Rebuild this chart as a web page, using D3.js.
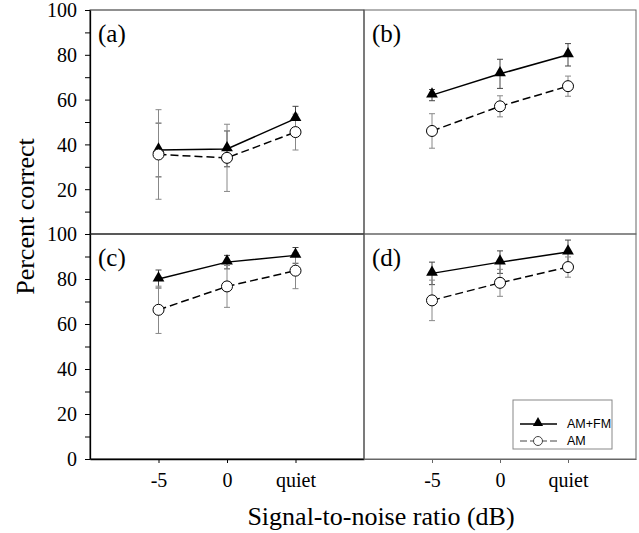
<!DOCTYPE html>
<html>
<head>
<meta charset="utf-8">
<script src="https://cdn.jsdelivr.net/npm/d3@7"></script>
<style>
  body { margin: 0; background: #fff; }
  svg { display: block; }
</style>
</head>
<body>
<div class="chart"></div>
<script>
// conditions on the x axis
const conditions = ['-5', '0', 'quiet'];
const panelLabels = ['(a)', '(b)', '(c)', '(d)'];
const seriesNames = ['AM+FM', 'AM'];

// percent correct, one row per panel (a..d)
const amfmMean = [
  [37.5, 38, 51.5],
  [62, 71.5, 80],
  [80, 87.5, 90.5],
  [82.5, 87.5, 92]
];
const amfmErr = [
  [12, 8, 5.5],
  [2.5, 6.5, 5],
  [4, 3, 3.5],
  [5, 5, 5.3]
];
const amMean = [
  [35.5, 34, 45.5],
  [46, 57, 66],
  [66.3, 76.7, 83.7],
  [70.5, 78.3, 85.3]
];
const amErr = [
  [20, 15, 8],
  [7.7, 4.7, 4.5],
  [10.5, 9.3, 8],
  [9, 6, 4.5]
];
const yMajor = [0, 20, 40, 60, 80, 100];
const yMinor = [10, 30, 50, 70, 90];

const width = 639, height = 533;
const colX = [[90, 364], [364, 636]];
const rowY = [[10, 234], [234, 459]];
const serif = '"Liberation Serif", "Times New Roman", serif';

const svg = d3.select('.chart').append('svg')
  .attr('width', width).attr('height', height);

function drawPanel(i) {
  const col = i % 2, row = Math.floor(i / 2);
  const [x0, x1] = colX[col];
  const [y0, y1] = rowY[row];
  const x = d3.scaleLinear().domain([0, 4]).range([x0, x1]);
  const y = d3.scaleLinear().domain([0, 100]).range([y1, y0]);
  const frameColor = col === 0 ? '#222' : '#666';

  const g = svg.append('g').attr('class', 'panel');

  g.append('rect')
    .attr('x', x0).attr('y', y0)
    .attr('width', x1 - x0).attr('height', y1 - y0)
    .attr('fill', 'none')
    .attr('stroke', frameColor).attr('stroke-width', 1);

  // y axis on left column
  if (col === 0) {
    const labels = row === 0 ? yMajor.filter(d => d > 0) : yMajor;
    const yAxis = d3.axisLeft(y).tickValues(labels)
      .tickSize(5).tickSizeOuter(0).tickPadding(8);
    const ya = g.append('g').attr('transform', `translate(${x0},0)`).call(yAxis);
    ya.select('.domain').attr('stroke', '#000').attr('stroke-width', 1.3);
    ya.selectAll('text').style('font-family', serif).style('font-size', '20px')
      .attr('fill', '#000').attr('dy', '0.34em');
    const yMin = d3.axisLeft(y).tickValues(yMinor).tickSize(5).tickFormat('');
    const ym = g.append('g').attr('transform', `translate(${x0},0)`).call(yMin);
    ym.select('.domain').remove();
  }

  // x axis on bottom row
  if (row === 1) {
    const xAxis = d3.axisBottom(x).tickValues([1, 2, 3])
      .tickFormat(d => conditions[d - 1])
      .tickSize(4).tickSizeOuter(0).tickPadding(10);
    const xa = g.append('g').attr('transform', `translate(0,${y1})`).call(xAxis);
    xa.select('.domain').attr('stroke', col === 0 ? '#000' : '#666')
      .attr('stroke-width', col === 0 ? 1.3 : 1);
    xa.selectAll('.tick line').attr('stroke', col === 0 ? '#000' : '#666');
    xa.selectAll('text').style('font-family', serif).style('font-size', '20px')
      .attr('fill', '#000');
  }

  g.append('text')
    .attr('x', x0 + 8).attr('y', y0 + 32)
    .style('font-family', serif).style('font-size', '25px')
    .text(panelLabels[i]);

  const series = [
    { mean: amfmMean[i], err: amfmErr[i], dash: null, errColor: '#444' },
    { mean: amMean[i], err: amErr[i], dash: '8,4', errColor: '#888' }
  ];

  // error bars
  series.forEach(s => {
    const eb = g.append('g');
    s.mean.forEach((m, k) => {
      const cx = x(k + 1);
      eb.append('line').attr('x1', cx).attr('x2', cx)
        .attr('y1', y(m - s.err[k])).attr('y2', y(m + s.err[k]))
        .attr('stroke', s.errColor).attr('stroke-width', 1);
      [m - s.err[k], m + s.err[k]].forEach(v => {
        eb.append('line').attr('x1', cx - 3).attr('x2', cx + 3)
          .attr('y1', y(v)).attr('y2', y(v))
          .attr('stroke', s.errColor).attr('stroke-width', 1);
      });
    });
  });

  // lines
  const line = d3.line().x((d, k) => x(k + 1)).y(d => y(d));
  series.forEach(s => {
    g.append('path').datum(s.mean)
      .attr('d', line)
      .attr('fill', 'none').attr('stroke', '#000').attr('stroke-width', 1.5)
      .attr('stroke-dasharray', s.dash);
  });

  // markers
  g.selectAll('.tri').data(series[0].mean).enter().append('path')
    .attr('class', 'tri')
    .attr('d', d3.symbol(d3.symbolTriangle, 60))
    .attr('transform', (d, k) => `translate(${x(k + 1)},${y(d) - 1})`)
    .attr('fill', '#000');
  g.selectAll('.circ').data(series[1].mean).enter().append('circle')
    .attr('class', 'circ')
    .attr('cx', (d, k) => x(k + 1)).attr('cy', d => y(d)).attr('r', 5.5)
    .attr('fill', '#fff').attr('stroke', '#000').attr('stroke-width', 1);
}

panelLabels.forEach((d, i) => drawPanel(i));

// legend inside panel (d)
const legend = svg.append('g').attr('transform', 'translate(513,400)');
legend.append('rect').attr('width', 99).attr('height', 49)
  .attr('fill', '#fff').attr('stroke', '#888').attr('stroke-width', 1);
const legItems = legend.selectAll('.item').data(seriesNames).enter().append('g')
  .attr('transform', (d, i) => `translate(0,${i === 0 ? 24 : 41})`);
legItems.append('line').attr('x1', 7).attr('x2', 44)
  .attr('stroke', (d, i) => i === 0 ? '#000' : '#444')
  .attr('stroke-width', (d, i) => i === 0 ? 1.5 : 1)
  .attr('stroke-dasharray', (d, i) => i === 0 ? null : '7,3');
legItems.filter((d, i) => i === 0).append('path')
  .attr('d', d3.symbol(d3.symbolTriangle, 45))
  .attr('transform', 'translate(25,-1)').attr('fill', '#000');
legItems.filter((d, i) => i === 1).append('circle')
  .attr('cx', 25).attr('r', 4.5).attr('fill', '#fff').attr('stroke', '#444');
legItems.append('text').attr('x', 54).attr('dy', '0.35em')
  .style('font-family', '"Liberation Sans", Arial, sans-serif').style('font-size', '12.5px')
  .text(d => d);

// axis titles
svg.append('text')
  .attr('x', 381).attr('y', 525)
  .attr('text-anchor', 'middle')
  .style('font-family', serif).style('font-size', '26px')
  .text('Signal-to-noise ratio (dB)');

svg.append('text')
  .attr('transform', 'translate(33.5,216.5) rotate(-90)')
  .attr('text-anchor', 'middle')
  .style('font-family', serif).style('font-size', '26px')
  .text('Percent correct');
</script>
</body>
</html>
